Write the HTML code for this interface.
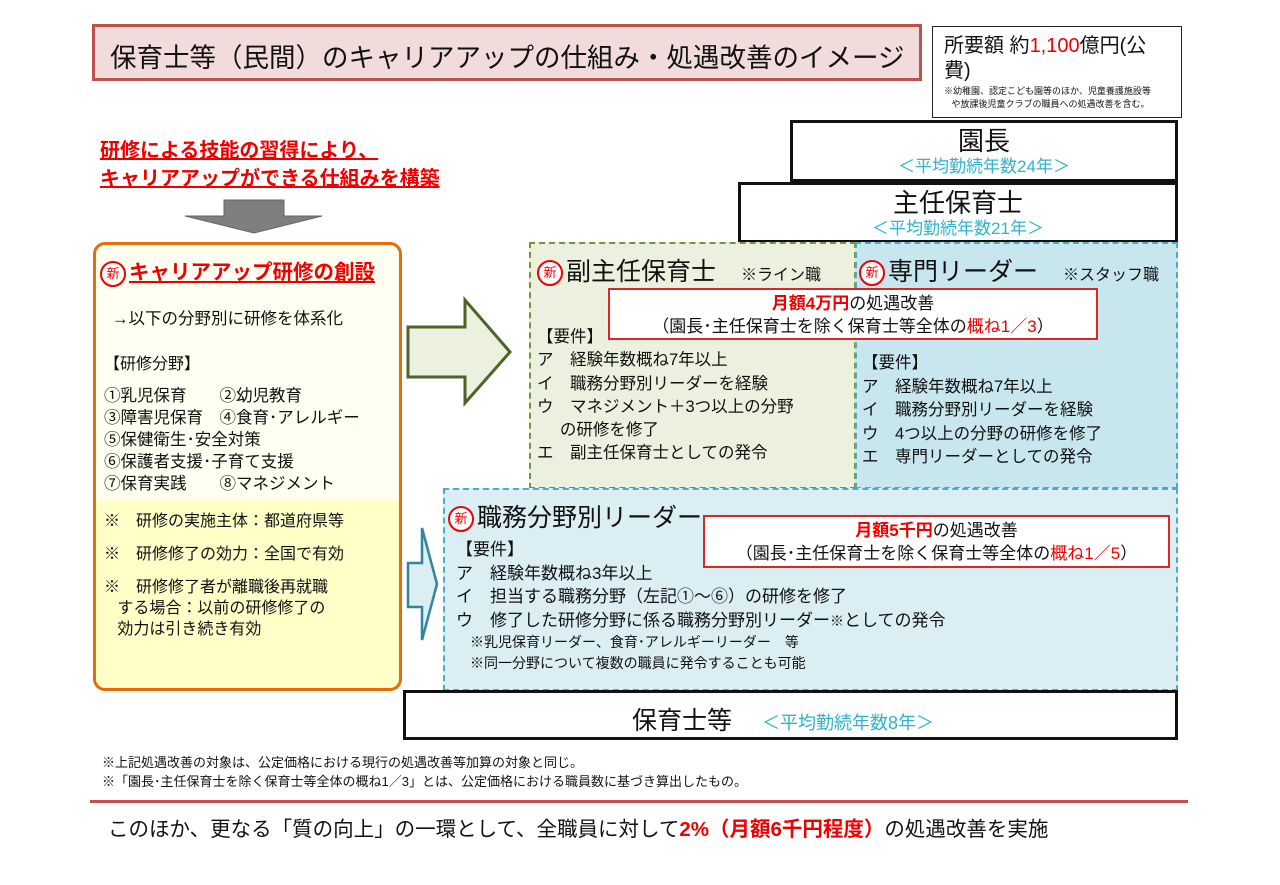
<!DOCTYPE html>
<html><head><meta charset="utf-8"><style>
*{margin:0;padding:0;box-sizing:border-box}
body{width:1280px;height:885px;background:#fff;position:relative;overflow:hidden;font-family:"Liberation Sans","Noto Sans CJK JP",sans-serif;color:#111}
.a{position:absolute;white-space:nowrap}
.shin{display:inline-block;width:26px;height:26px;border:2px solid #e00;border-radius:50%;color:#e00;font-size:13px;line-height:22px;text-align:center;vertical-align:middle;background:#fff;font-weight:normal;margin-right:3px}
.red{color:#e00}
.cy{color:#2fb3cf}
</style></head><body>
<div class="a" style="left:92px;top:24px;width:830px;height:57px;background:#f2dcdb;border:3px solid #c0504d;"></div>
<div class="a" style="left:110px;top:36px;font-size:26.5px;">保育士等（民間）のキャリアアップの仕組み・処遇改善のイメージ</div>

<div class="a" style="left:932px;top:26px;width:250px;height:92px;border:1.5px solid #222;"></div>
<div class="a" style="left:944px;top:34px;font-size:20px;line-height:25px;">所要額 約<span class="red">1,100</span>億円(公<br>費)</div>
<div class="a" style="left:944px;top:85px;font-size:9px;line-height:13px;">※幼稚園、認定こども園等のほか、児童養護施設等<br>&nbsp;&nbsp;&nbsp;や放課後児童クラブの職員への処遇改善を含む。</div>

<div class="a" style="left:790px;top:120px;width:388px;height:62px;border:3px solid #111;text-align:center;">
<div style="font-size:26px;line-height:30px;margin-top:3px;">園長</div><div class="cy" style="font-size:17px;line-height:21px;">＜平均勤続年数24年＞</div></div>
<div class="a" style="left:738px;top:182px;width:440px;height:61px;border:3px solid #111;text-align:center;">
<div style="font-size:26px;line-height:30px;margin-top:3px;">主任保育士</div><div class="cy" style="font-size:17px;line-height:21px;">＜平均勤続年数21年＞</div></div>

<div class="a red" style="left:100px;top:137px;font-size:20px;font-weight:bold;line-height:28px;text-decoration:underline;">研修による技能の習得により、<br>キャリアアップができる仕組みを構築</div>

<svg class="a" style="left:0;top:0" width="1280" height="885">
<polygon points="224,200 284,200 284,216 322,216 254,233 185,216 224,216" fill="#7f7f7f" stroke="#666"/>
<polygon points="408,327 465,327 465,300 510,352 465,403 465,377 408,377" fill="#ebf1de" stroke="#4f6228" stroke-width="3"/>
</svg>

<div class="a" style="left:93px;top:242px;width:309px;height:449px;border:3px solid #e46c0a;border-radius:12px;background:linear-gradient(#fffff2 0,#fffff2 254px,#ffffc8 254px);"></div>
<div class="a" style="left:100px;top:255px;font-size:20.5px;font-weight:bold;"><span class="shin">新</span><span class="red" style="text-decoration:underline;">キャリアアップ研修の創設</span></div>
<div class="a" style="left:112px;top:305px;font-size:16.5px;">→以下の分野別に研修を体系化</div>
<div class="a" style="left:104px;top:350px;font-size:16px;">【研修分野】</div>
<div class="a" style="left:104px;top:385px;font-size:16.5px;line-height:22px;">①乳児保育　　②幼児教育<br>③障害児保育　④食育･アレルギー<br>⑤保健衛生･安全対策<br>⑥保護者支援･子育て支援<br>⑦保育実践　　⑧マネジメント</div>
<div class="a" style="left:104px;top:511px;font-size:16px;line-height:21px;">※　研修の実施主体：都道府県等<br><span style="display:block;height:12px"></span>※　研修修了の効力：全国で有効<br><span style="display:block;height:12px"></span>※　研修修了者が離職後再就職<br>&nbsp;&nbsp;&nbsp;する場合：以前の研修修了の<br>&nbsp;&nbsp;&nbsp;効力は引き続き有効</div>

<div class="a" style="left:529px;top:242px;width:327px;height:247px;background:#ebf1de;border:2px dashed #77933c;"></div>
<div class="a" style="left:855px;top:242px;width:323px;height:247px;background:#c8e6ee;border:2px dashed #4bacc6;"></div>
<div class="a" style="left:443px;top:488px;width:735px;height:203px;background:#dbeef4;border:2px dashed #4bacc6;"></div>

<div class="a" style="left:537px;top:252px;font-size:25px;"><span class="shin">新</span>副主任保育士　<span style="font-size:16px;">※ライン職</span></div>
<div class="a" style="left:859px;top:252px;font-size:25px;"><span class="shin">新</span>専門リーダー　<span style="font-size:16px;">※スタッフ職</span></div>
<div class="a" style="left:537px;top:326px;font-size:16.5px;line-height:23.3px;">【要件】<br>ア　経験年数概ね7年以上<br>イ　職務分野別リーダーを経験<br>ウ　マネジメント＋3つ以上の分野<br>&nbsp;&nbsp;&nbsp;&nbsp;&nbsp;の研修を修了<br>エ　副主任保育士としての発令</div>
<div class="a" style="left:862px;top:352px;font-size:16.5px;line-height:23.5px;">【要件】<br>ア　経験年数概ね7年以上<br>イ　職務分野別リーダーを経験<br>ウ　4つ以上の分野の研修を修了<br>エ　専門リーダーとしての発令</div>
<div class="a" style="left:608px;top:288px;width:490px;height:52px;background:#fff;border:2px solid #d9262b;text-align:center;font-size:17px;line-height:23px;padding-top:2px;"><b class="red">月額4万円</b>の処遇改善<br>（園長･主任保育士を除く保育士等全体の<span class="red">概ね1／3</span>）</div>

<svg class="a" style="left:0;top:0" width="1280" height="885">
<polygon points="408,563 422,563 422,528 437,584 422,640 422,607 408,607" fill="#dbeef4" stroke="#31859c" stroke-width="2.5"/>
</svg>
<div class="a" style="left:448px;top:498px;font-size:25px;"><span class="shin">新</span>職務分野別リーダー</div>
<div class="a" style="left:703px;top:515px;width:467px;height:53px;background:#fff;border:2px solid #d9262b;text-align:center;font-size:17px;line-height:23px;padding-top:2px;"><b class="red">月額5千円</b>の処遇改善<br>（園長･主任保育士を除く保育士等全体の<span class="red">概ね1／5</span>）</div>
<div class="a" style="left:456px;top:538px;font-size:17px;line-height:23.5px;">【要件】<br>ア　経験年数概ね3年以上<br>イ　担当する職務分野（左記①～⑥）の研修を修了<br>ウ　修了した研修分野に係る職務分野別リーダー<span style="font-size:14px">※</span>としての発令</div>
<div class="a" style="left:470px;top:632px;font-size:14px;line-height:21px;">※乳児保育リーダー、食育･アレルギーリーダー　等<br>※同一分野について複数の職員に発令することも可能</div>

<div class="a" style="left:403px;top:690px;width:775px;height:50px;border:3px solid #111;background:#fff;"></div>
<div class="a" style="left:632px;top:701px;font-size:25px;">保育士等　<span class="cy" style="font-size:18px;">&nbsp;＜平均勤続年数8年＞</span></div>

<div class="a" style="left:102px;top:753px;font-size:13px;line-height:19px;">※上記処遇改善の対象は、公定価格における現行の処遇改善等加算の対象と同じ。<br>※「園長･主任保育士を除く保育士等全体の概ね1／3」とは、公定価格における職員数に基づき算出したもの。</div>
<div class="a" style="left:90px;top:800px;width:1098px;height:3px;background:#c0504d;"></div>
<div class="a" style="left:108px;top:812px;font-size:20.5px;">このほか、更なる「質の向上」の一環として、全職員に対して<b class="red">2%（月額6千円程度）</b>の処遇改善を実施</div>
</body></html>
